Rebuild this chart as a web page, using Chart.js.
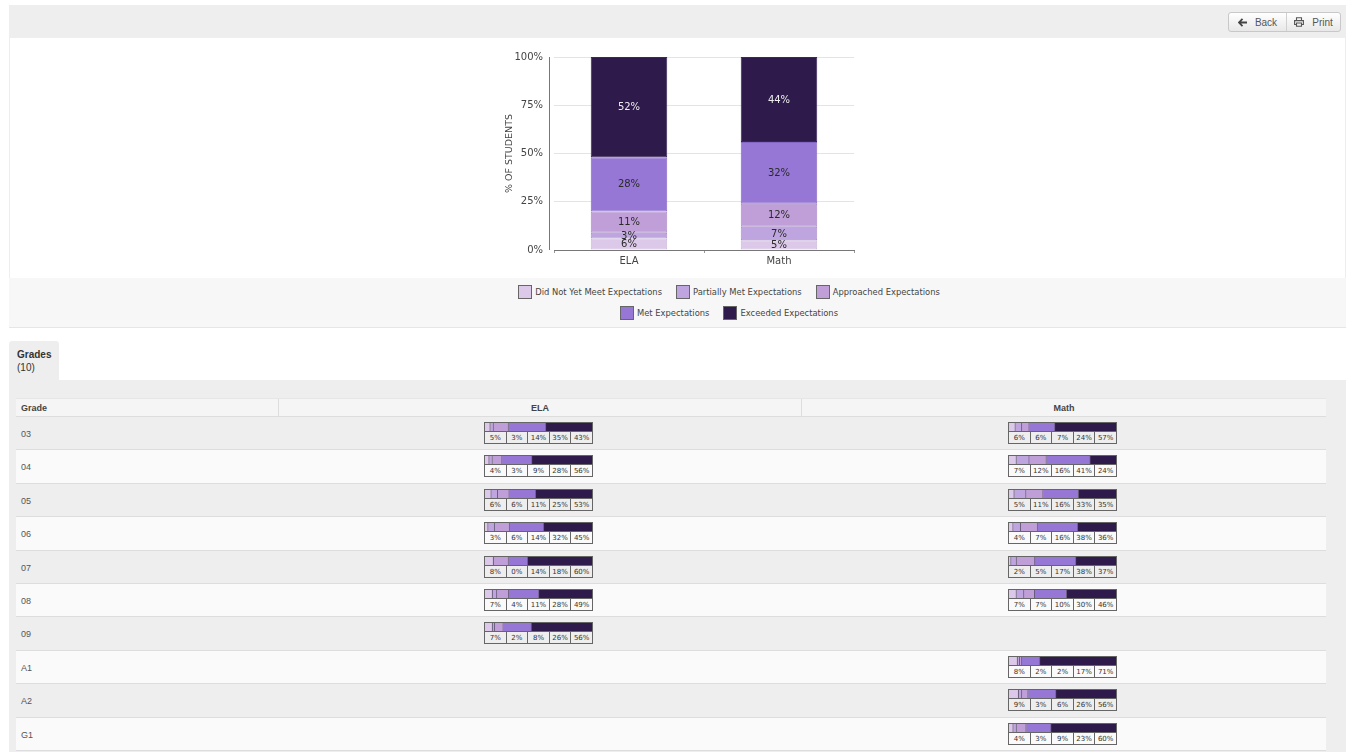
<!DOCTYPE html>
<html>
<head>
<meta charset="utf-8">
<script src="https://cdn.jsdelivr.net/npm/chart.js@4"></script>
<style>
html,body{margin:0;padding:0;background:#fff;overflow:hidden}
body{width:1350px;height:752px;position:relative;font-family:"Liberation Sans",sans-serif;color:#444;filter:blur(0.35px)}
.abs{position:absolute}
#btns{left:1228px;top:12px;width:113px;height:20px;display:flex;border:1px solid #c8c8c8;border-radius:3px;box-sizing:border-box;background:linear-gradient(#fff,#e8e8e8);font-size:10px;color:#555}
#btns div{display:flex;align-items:center;justify-content:center;gap:8px;box-sizing:border-box}
#btns div+div{border-left:1px solid #d0d0d0}
.legendRow{left:300px;width:858px;display:flex;justify-content:center;gap:14px;font:8.4px "DejaVu Sans",sans-serif;color:#444;height:16px;align-items:center}
.legendItem{display:flex;align-items:center;gap:3px}
.swatch{width:12px;height:12px;border:1px solid #666;display:inline-block}
.row{left:16px;width:1310px;box-sizing:border-box;border-bottom:1px solid #ddd;font-size:9px;color:#555}
.mini{position:absolute;width:109px;height:22px;box-sizing:border-box;border:1px solid #666}
.mini canvas{display:block}
.cells{display:flex;height:12px;border-top:1px solid #666}
.cells span{flex:1;text-align:center;font:7px/12px "DejaVu Sans",sans-serif;color:#333;border-left:1px solid #666}
.cells span:first-child{border-left:0}
</style>
</head>
<body>
<div class="abs" style="left:9px;top:5px;width:1337px;height:33px;background:#eee"></div>
<div class="abs" id="btns">
  <div style="width:57px">
    <svg width="9" height="9" viewBox="0 0 9 9"><path d="M4.5 .8L1 4.5l3.5 3.7M1.2 4.5H9" fill="none" stroke="#444" stroke-width="1.8"/></svg>
    <span>Back</span>
  </div>
  <div style="width:54px">
    <svg width="10" height="10" viewBox="0 0 10 10"><path d="M2.5 3.5V.8h5v2.7M2.5 7.5H.6V3.6h8.8v3.9H7.5M2.5 6h5v3.2h-5z" fill="none" stroke="#555" stroke-width="1.1"/></svg>
    <span>Print</span>
  </div>
</div>
<div class="abs" style="left:9px;top:38px;width:1337px;height:240px;box-sizing:border-box;border-left:1px solid #eee;border-right:1px solid #eee"></div>
<div class="abs" style="left:490px;top:40px;width:380px;height:240px"><canvas id="mainChart" width="380" height="240"></canvas></div>
<div class="abs" style="left:9px;top:278px;width:1337px;height:49px;background:#f7f7f7;border-bottom:1px solid #e6e6e6;box-sizing:content-box"></div>
<div class="abs legendRow" id="legend1" style="top:284px"></div>
<div class="abs legendRow" id="legend2" style="top:305px"></div>

<div class="abs" style="left:9px;top:341px;width:50px;height:39px;background:#eee;border-radius:3px 3px 0 0;font-size:10px;line-height:13px;box-sizing:border-box;padding:7px 0 0 8px;color:#333"><b>Grades</b><br>(10)</div>
<div class="abs" style="left:9px;top:380px;width:1337px;height:372px;background:#eee"></div>
<div class="abs" style="left:16px;top:398px;width:1310px;height:19px;background:#f5f5f5;box-sizing:border-box;border-bottom:1px solid #ddd;border-top:1px solid #e6e6e6;font-size:9px;font-weight:bold;color:#444;line-height:18px">
  <span class="abs" style="left:5px">Grade</span>
  <span class="abs" style="left:262px;width:524px;box-sizing:border-box;text-align:center;border-left:1px solid #ddd;border-right:1px solid #ddd;height:18px">ELA</span>
  <span class="abs" style="left:786px;width:524px;text-align:center">Math</span>
</div>
<div id="rows"></div>

<script>
const seriesNames = ['Did Not Yet Meet Expectations','Partially Met Expectations','Approached Expectations','Met Expectations','Exceeded Expectations'];
const seriesColors = ['#dcc8e8','#bfa5e0','#c09fd9','#9677d6','#2e1a4b'];
const seriesEdges = ['#cbb6da','#a98fcd','#a98ac6','#8467c4','#3a2758'];
const subjects = ['ELA','Math'];
const didNotMeet = [6,5];
const partiallyMet = [3,7];
const approached = [11,12];
const metExp = [28,32];
const exceeded = [52,44];
const yTicks = [0,25,50,75,100];

const grades = ['03','04','05','06','07','08','09','A1','A2','G1'];
const elaByGrade = [
  [5,3,14,35,43],
  [4,3,9,28,56],
  [6,6,11,25,53],
  [3,6,14,32,45],
  [8,0,14,18,60],
  [7,4,11,28,49],
  [7,2,8,26,56],
  null,
  null,
  null
];
const mathByGrade = [
  [6,6,7,24,57],
  [7,12,16,41,24],
  [5,11,16,33,35],
  [4,7,16,38,36],
  [2,5,17,38,37],
  [7,7,10,30,46],
  null,
  [8,2,2,17,71],
  [9,3,6,26,56],
  [4,3,9,23,60]
];

// % text in the middle of each bar piece
const barLabels = {
  id:'barLabels',
  afterDatasetsDraw(chart){
    const ctx = chart.ctx;
    ctx.save();
    ctx.font = '10px "DejaVu Sans"';
    ctx.textAlign = 'center';
    ctx.textBaseline = 'middle';
    chart.data.datasets.forEach((ds,i)=>{
      chart.getDatasetMeta(i).data.forEach((bar,j)=>{
        ctx.fillStyle = i==4 ? '#eee' : '#2a2a2a';
        ctx.fillText(ds.data[j]+'%', bar.x, (bar.y+bar.base)/2+0.5);
      });
    });
    ctx.restore();
  }
};

// the y axis line sits a little left of the grid
const yAxisLine = {
  id:'yAxisLine',
  beforeDatasetsDraw(chart){
    const a = chart.chartArea, ctx = chart.ctx;
    ctx.save();
    ctx.strokeStyle = '#777';
    ctx.lineWidth = 1;
    ctx.beginPath();
    ctx.moveTo(a.left-4.5, a.top);
    ctx.lineTo(a.left-4.5, a.bottom);
    ctx.stroke();
    ctx.restore();
  }
};

const mainSeries = [didNotMeet,partiallyMet,approached,metExp,exceeded];
new Chart(document.getElementById('mainChart').getContext('2d'), {
  type:'bar',
  data:{
    labels:subjects,
    datasets:mainSeries.map((vals,i)=>({
      label:seriesNames[i],
      data:vals,
      backgroundColor:seriesColors[i],
      borderColor:seriesEdges[i],
      borderWidth:1,
      borderSkipped:false,
      barPercentage:0.51,
      categoryPercentage:1
    }))
  },
  options:{
    responsive:false,
    animation:false,
    layout:{padding:{top:15,right:16,left:0,bottom:0}},
    plugins:{legend:{display:false},tooltip:{enabled:false}},
    scales:{
      x:{
        stacked:true,
        afterFit(s){s.height=30},
        grid:{drawOnChartArea:false,tickLength:3,color:'#999'},
        border:{color:'#777',width:1},
        ticks:{font:{family:'DejaVu Sans',size:10},color:'#444',padding:2}
      },
      y:{
        stacked:true,
        min:0,
        max:100,
        afterFit(s){s.width=64},
        afterBuildTicks(s){s.ticks=yTicks.map(v=>({value:v}))},
        grid:{drawTicks:false,color:'#e4e4e4',lineWidth:1},
        border:{display:false},
        ticks:{font:{family:'DejaVu Sans',size:10},color:'#444',padding:11,callback:v=>v+'%'},
        title:{display:true,text:'% OF STUDENTS',font:{family:'DejaVu Sans',size:9.5},color:'#444',padding:{top:14,bottom:0}}
      }
    }
  },
  plugins:[barLabels,yAxisLine]
});

// legend
function addLegend(boxId,from,to){
  const box = document.getElementById(boxId);
  for(let i=from;i<to;i++){
    const item = document.createElement('div');
    item.className = 'legendItem';
    item.innerHTML = '<span class="swatch" style="background:'+seriesColors[i]+'"></span><span>'+seriesNames[i]+'</span>';
    box.appendChild(item);
  }
}
addLegend('legend1',0,3);
addLegend('legend2',3,5);

// small stacked bar with its five % cells
function addMini(parent,left,top,vals){
  const box = document.createElement('div');
  box.className = 'mini';
  box.style.left = left+'px';
  box.style.top = top+'px';
  const cv = document.createElement('canvas');
  cv.width = 107;
  cv.height = 8;
  box.appendChild(cv);
  const cells = document.createElement('div');
  cells.className = 'cells';
  cells.innerHTML = vals.map(v=>'<span>'+v+'%</span>').join('');
  box.appendChild(cells);
  parent.appendChild(box);
  // rounded values do not always add up to 100, the bar still fills the box
  const total = vals.reduce((a,b)=>a+b,0);
  new Chart(cv.getContext('2d'),{
    type:'bar',
    data:{
      labels:[''],
      datasets:vals.map((v,i)=>({
        data:[v],
        backgroundColor:seriesColors[i],
        borderColor:'#6a5c7c',
        borderWidth:{left:0,right:i<4 ? 1 : 0,top:0,bottom:0},
        borderSkipped:false,
        barPercentage:1,
        categoryPercentage:1
      }))
    },
    options:{
      indexAxis:'y',
      responsive:false,
      animation:false,
      plugins:{legend:{display:false},tooltip:{enabled:false}},
      scales:{
        x:{stacked:true,min:0,max:total,display:false},
        y:{stacked:true,display:false}
      }
    }
  });
}

const rowsBox = document.getElementById('rows');
grades.forEach((g,i)=>{
  const top = Math.round(417+33.4*i);
  const next = Math.round(417+33.4*(i+1));
  const row = document.createElement('div');
  row.className = 'abs row';
  row.style.top = top+'px';
  row.style.height = (next-top)+'px';
  row.style.background = i%2 ? '#fafafa' : '#eee';
  row.innerHTML = '<span class="abs" style="left:5px;top:11.5px">'+g+'</span>';
  rowsBox.appendChild(row);
  if(elaByGrade[i]) addMini(row,468,5,elaByGrade[i]);
  if(mathByGrade[i]) addMini(row,992,5,mathByGrade[i]);
});
</script>
</body>
</html>
